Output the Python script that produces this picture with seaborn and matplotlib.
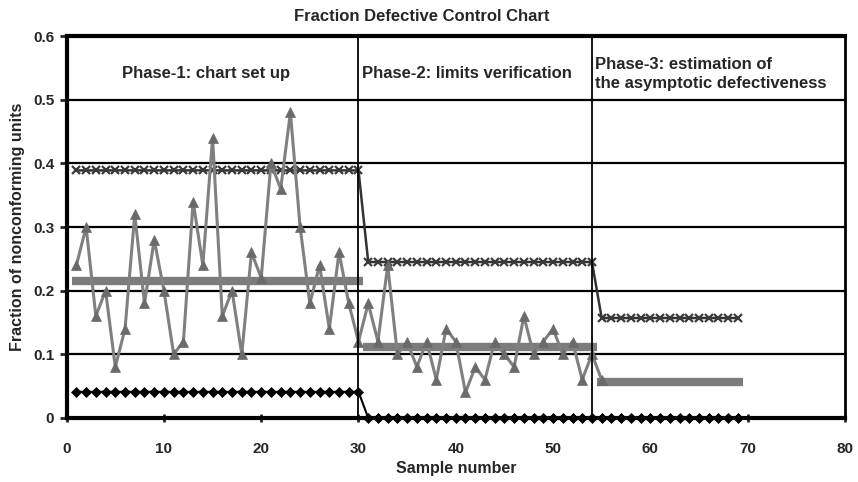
import numpy as np
import pandas as pd
import matplotlib
matplotlib.use("Agg")
import matplotlib.pyplot as plt
import seaborn as sns

# Fraction nonconforming per sample (n = 50)
samples = list(range(1, 56))
frac = [0.24, 0.30, 0.16, 0.20, 0.08, 0.14, 0.32, 0.18, 0.28, 0.20,
        0.10, 0.12, 0.34, 0.24, 0.44, 0.16, 0.20, 0.10, 0.26, 0.22,
        0.40, 0.36, 0.48, 0.30, 0.18, 0.24, 0.14, 0.26, 0.18, 0.12,
        0.18, 0.12, 0.24, 0.10, 0.12, 0.08, 0.12, 0.06, 0.14, 0.12,
        0.04, 0.08, 0.06, 0.12, 0.10, 0.08, 0.16, 0.10, 0.12, 0.14,
        0.10, 0.12, 0.06, 0.10, 0.06]

# Phase limits
phase_start = [1, 31, 55]
phase_end = [30, 54, 69]
cl = [0.215, 0.111, 0.057]
ucl = [0.389, 0.245, 0.157]
lcl = [0.041, 0.0, 0.0]

phase_text = ["Phase-1: chart set up", "Phase-2: limits verification",
              "Phase-3: estimation of\nthe asymptotic defectiveness"]

# limit series across all phases
lim_rows = []
for s, e, u, l in zip(phase_start, phase_end, ucl, lcl):
    for k in range(s, e + 1):
        lim_rows.append((k, u, l))
limits = pd.DataFrame(lim_rows, columns=["sample", "ucl", "lcl"])
data = pd.DataFrame({"sample": samples, "frac": frac})

sns.set_theme(style="white")
plt.rcParams['font.family'] = ['Liberation Sans', 'DejaVu Sans']
plt.rcParams['font.weight'] = 'bold'

fig = plt.figure(figsize=(8.58, 4.82), dpi=100)
ax = fig.add_axes([0.0777, 0.133, 0.907, 0.792])

# horizontal grid
for gy in [0.1, 0.2, 0.3, 0.4, 0.5]:
    ax.axhline(gy, color="black", lw=1.6, zorder=1)

sns.lineplot(data=limits, x="sample", y="lcl", ax=ax, color="black", lw=1.5,
             marker="D", markersize=5.5, markerfacecolor="black",
             markeredgecolor="black", markeredgewidth=0.5, zorder=3,
             clip_on=False)
sns.lineplot(data=limits, x="sample", y="ucl", ax=ax, color="#333333", lw=1.8,
             marker="x", markersize=6, markeredgecolor="#3a3a3a",
             markeredgewidth=1.6, zorder=3)

# centre lines (one bar per phase)
for s, e, c in zip(phase_start, phase_end, cl):
    ax.hlines(c, s - 0.5, e + 0.5, color="#7c7c7c", lw=6, zorder=4)

sns.lineplot(data=data, x="sample", y="frac", ax=ax, color="#808080", lw=2.2,
             marker="^", markersize=6.5, markerfacecolor="#6a6a6a",
             markeredgecolor="#6a6a6a", markeredgewidth=0.5, zorder=5)

# phase separators
for e in phase_end[:2]:
    ax.axvline(e, color="black", lw=1.3, zorder=6)

ax.text(14.3, 0.542, phase_text[0], ha="center", va="center", fontsize=12, fontweight="bold")
ax.text(30.4, 0.542, phase_text[1], ha="left", va="center", fontsize=12, fontweight="bold")
ax.text(54.3, 0.540, phase_text[2], ha="left", va="center", fontsize=12,
        fontweight="bold", linespacing=1.35)

ax.set_xlim(0, 80)
ax.set_ylim(0, 0.6)
ax.set_xticks(range(0, 81, 10))
ax.set_yticks([0, 0.1, 0.2, 0.3, 0.4, 0.5, 0.6])
ax.set_yticklabels(["0", "0.1", "0.2", "0.3", "0.4", "0.5", "0.6"])
ax.tick_params(axis="x", bottom=True, direction="inout", length=6, width=2,
               pad=14, labelsize=11)
ax.tick_params(axis="y", left=True, direction="out", length=5, width=2,
               pad=4, labelsize=11)

for side in ["left", "bottom", "top"]:
    ax.spines[side].set_linewidth(3)
    ax.spines[side].set_color("black")
ax.spines["right"].set_linewidth(2)
ax.spines["right"].set_color("black")

ax.set_xlabel("Sample number", fontsize=11.5, fontweight="bold", labelpad=4)
ax.set_ylabel("Fraction of nonconforming units", fontsize=11.5, fontweight="bold", labelpad=6)
fig.text(0.492, 0.965, "Fraction Defective Control Chart", ha="center", va="center",
         fontsize=12, fontweight="bold")

fig.savefig("out.png", dpi=100)
